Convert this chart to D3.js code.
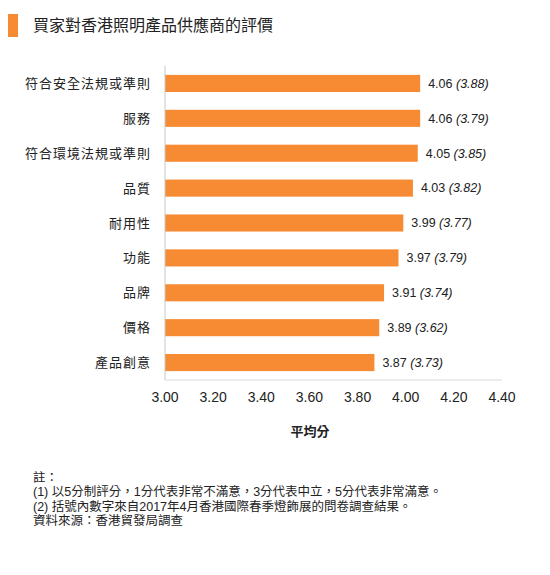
<!DOCTYPE html>
<html>
<head>
<meta charset="utf-8">
<script src="https://cdn.jsdelivr.net/npm/d3@7"></script>
<style>
  body { margin: 0; background: #fff; }
  text { font-family: "Liberation Sans", Arial, "Noto Sans CJK TC", sans-serif; }
</style>
</head>
<body>
<svg id="chart"></svg>
<script>
// Chart data
const categories = ["符合安全法規或準則", "服務", "符合環境法規或準則", "品質", "耐用性", "功能", "品牌", "價格", "產品創意"];
const scores = [4.06, 4.06, 4.05, 4.03, 3.99, 3.97, 3.91, 3.89, 3.87];
const scores2017 = [3.88, 3.79, 3.85, 3.82, 3.77, 3.79, 3.74, 3.62, 3.73];
const tickValues = [3.0, 3.2, 3.4, 3.6, 3.8, 4.0, 4.2, 4.4];
const notes = [
  "註：",
  "(1) 以5分制評分，1分代表非常不滿意，3分代表中立，5分代表非常滿意。",
  "(2) 括號內數字來自2017年4月香港國際春季燈飾展的問卷調查結果。",
  "資料來源：香港貿發局調查"
];

const width = 550, height = 575;
const orange = "#F68B33";
const cjk = "\"Noto Sans CJK TC\", \"Liberation Sans\", sans-serif";

const svg = d3.select("#chart")
  .attr("width", width)
  .attr("height", height);

// Title block
svg.append("rect")
  .attr("x", 8).attr("y", 14)
  .attr("width", 10).attr("height", 23)
  .attr("fill", orange);
svg.append("text")
  .attr("x", 33).attr("y", 31)
  .attr("font-size", 16)
  .style("font-family", cjk)
  .attr("fill", "#222")
  .text("買家對香港照明產品供應商的評價");

// Scales
const x = d3.scaleLinear().domain([3.0, 4.4]).range([165, 502]);
const y = d3.scaleBand().domain(categories).range([66, 380])
  .paddingInner(0.51).paddingOuter(0.255);

const rows = categories.map((c, i) => ({ name: c, value: scores[i], prev: scores2017[i] }));

// Bars
svg.selectAll("rect.bar")
  .data(rows)
  .enter().append("rect")
  .attr("class", "bar")
  .attr("x", x(3.0))
  .attr("y", d => y(d.name))
  .attr("width", d => x(d.value) - x(3.0))
  .attr("height", y.bandwidth())
  .attr("fill", orange);

// Axis lines
svg.append("line")
  .attr("x1", x(3.0)).attr("x2", x(3.0))
  .attr("y1", 66).attr("y2", 380)
  .attr("stroke", "#c8c8c8");
svg.append("line")
  .attr("x1", x(3.0)).attr("x2", x(4.4))
  .attr("y1", 380).attr("y2", 380)
  .attr("stroke", "#d8d8d8");

// Category labels
svg.selectAll("text.cat")
  .data(rows)
  .enter().append("text")
  .attr("class", "cat")
  .attr("x", 151)
  .attr("y", d => y(d.name) + y.bandwidth() / 2)
  .attr("dy", "0.35em")
  .attr("text-anchor", "end")
  .attr("font-size", 13)
  .attr("letter-spacing", 1)
  .style("font-family", cjk)
  .attr("fill", "#222")
  .text(d => d.name);

// Value labels: score plus 2017 score in italics
const vl = svg.selectAll("text.val")
  .data(rows)
  .enter().append("text")
  .attr("class", "val")
  .attr("x", d => x(d.value) + 8)
  .attr("y", d => y(d.name) + y.bandwidth() / 2)
  .attr("dy", "0.35em")
  .attr("font-size", 12.5)
  .attr("fill", "#222");
vl.append("tspan").text(d => d.value.toFixed(2) + " ");
vl.append("tspan").attr("font-style", "italic").text(d => "(" + d.prev.toFixed(2) + ")");

// Tick labels
svg.selectAll("text.tick")
  .data(tickValues)
  .enter().append("text")
  .attr("class", "tick")
  .attr("x", d => x(d))
  .attr("y", 402)
  .attr("text-anchor", "middle")
  .attr("font-size", 14)
  .attr("fill", "#222")
  .text(d3.format(".2f"));

// Axis title
svg.append("text")
  .attr("x", 310).attr("y", 436)
  .attr("text-anchor", "middle")
  .attr("font-size", 13)
  .attr("font-weight", "bold")
  .style("font-family", cjk)
  .attr("fill", "#222")
  .text("平均分");

// Notes
svg.selectAll("text.note")
  .data(notes)
  .enter().append("text")
  .attr("class", "note")
  .attr("x", 33)
  .attr("y", (d, i) => 482 + i * 14.3)
  .attr("font-size", 12.5)
  .attr("fill", "#222")
  .text(d => d);
</script>
</body>
</html>
